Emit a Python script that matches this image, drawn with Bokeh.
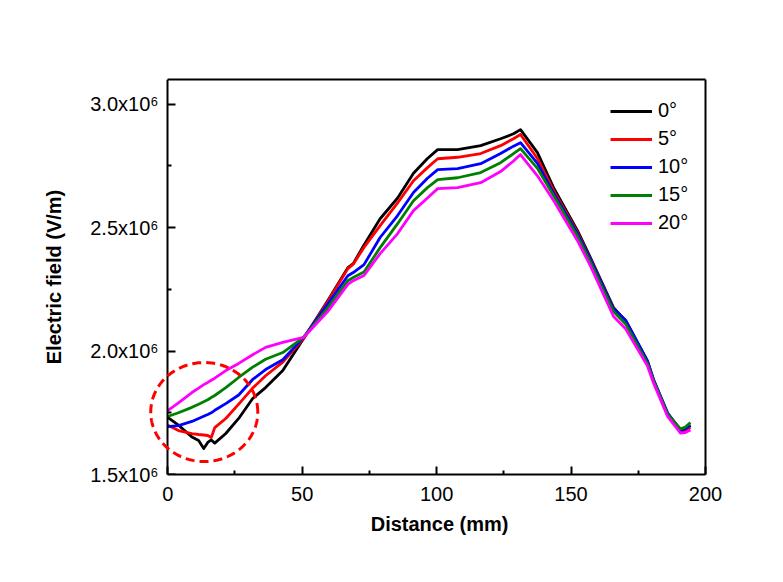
import numpy as np
from bokeh.plotting import figure
from bokeh.models import (Range1d, FixedTicker, Legend, LegendItem, PolyAnnotation,
                          LinearAxis, Title)
from bokeh.embed import file_html
from bokeh.resources import INLINE

# ---------------- data (field in units of 10^6 V/m) ----------------
distance_mm = [0, 4, 9, 11.5, 13.4, 14.9, 16.2, 17.5, 21.6, 26.4, 31.6, 36.4, 42.8,
               50.5, 59.5, 67, 69, 73, 79, 85.5, 91.4, 96.6, 100.4, 107.8, 116.4,
               123.8, 128.6, 131.2, 137.5, 143.5, 152.4, 157.2, 165.8, 170.3, 178.4,
               180.7, 185.9, 190.7, 192.5, 194.4]

field_0deg = [1.731, 1.700, 1.652, 1.638, 1.605, 1.630, 1.640, 1.627, 1.666, 1.727, 1.808,
              1.852, 1.921, 2.050, 2.204, 2.338, 2.354, 2.430, 2.536, 2.620, 2.720, 2.780,
              2.816, 2.816, 2.832, 2.860, 2.880, 2.897, 2.804, 2.662, 2.488, 2.379, 2.176,
              2.123, 1.960, 1.880, 1.747, 1.678, 1.682, 1.698]
field_5deg = [1.700, 1.678, 1.666, 1.662, 1.660, 1.658, 1.650, 1.690, 1.727, 1.785, 1.850,
              1.900, 1.955, 2.050, 2.200, 2.334, 2.352, 2.420, 2.508, 2.600, 2.690, 2.743,
              2.779, 2.785, 2.800, 2.832, 2.860, 2.877, 2.780, 2.650, 2.480, 2.372, 2.170,
              2.120, 1.955, 1.880, 1.745, 1.675, 1.678, 1.690]
field_10deg = [1.694, 1.698, 1.715, 1.727, 1.736, 1.743, 1.750, 1.760, 1.787, 1.822, 1.885,
               1.925, 1.965, 2.055, 2.190, 2.305, 2.318, 2.350, 2.460, 2.549, 2.642, 2.700,
               2.735, 2.739, 2.759, 2.800, 2.830, 2.844, 2.760, 2.640, 2.475, 2.370, 2.170,
               2.125, 1.960, 1.885, 1.750, 1.680, 1.685, 1.700]
field_15deg = [1.735, 1.750, 1.772, 1.785, 1.795, 1.803, 1.812, 1.820, 1.852, 1.893, 1.935,
               1.967, 1.994, 2.055, 2.175, 2.285, 2.298, 2.320, 2.419, 2.516, 2.609, 2.662,
               2.694, 2.702, 2.723, 2.763, 2.800, 2.820, 2.740, 2.630, 2.465, 2.360, 2.160,
               2.110, 1.950, 1.880, 1.745, 1.685, 1.692, 1.710]
field_20deg = [1.759, 1.790, 1.832, 1.850, 1.864, 1.873, 1.882, 1.890, 1.921, 1.950, 1.985,
               2.015, 2.035, 2.055, 2.160, 2.270, 2.285, 2.306, 2.395, 2.476, 2.569, 2.620,
               2.658, 2.662, 2.682, 2.727, 2.770, 2.796, 2.710, 2.610, 2.447, 2.345, 2.140,
               2.090, 1.940, 1.870, 1.735, 1.668, 1.670, 1.680]

series_labels = ["0°", "5°", "10°", "15°", "20°"]
series_values = [field_0deg, field_5deg, field_10deg, field_15deg, field_20deg]
series_colors = ["#000000", "#ff0000", "#0000ff", "#008000", "#ff00ff"]

x_min, x_max = 0, 200
y_min, y_max = 1.5, 3.1
x_ticks = [0, 50, 100, 150, 200]
x_minor_ticks = [25, 75, 125, 175]
y_ticks = [1.5, 2.0, 2.5, 3.0]
y_minor_ticks = [1.75, 2.25, 2.75]
y_tick_labels = ["1.5x10⁶", "2.0x10⁶", "2.5x10⁶", "3.0x10⁶"]
x_title = "Distance (mm)"
y_title = "Electric field (V/m)"

# highlighted region (dashed circle): centre, width, height in data units
circle_cx, circle_cy = 13.6, 1.753
circle_w, circle_h = 39.8, 0.401

FONT = "Liberation Sans"
# the frame reaches a little left of x=0 so that the dashed circle can
# cross the y axis line, which is drawn at x = 0
x_pad = 9

p = figure(width=775, height=574, output_backend="svg", toolbar_location=None,
           x_range=Range1d(x_min - x_pad, x_max), y_range=Range1d(y_min, y_max),
           min_border_left=143, min_border_right=70, min_border_top=79,
           min_border_bottom=100)
p.xgrid.visible = False
p.ygrid.visible = False
p.outline_line_color = None
p.background_fill_color = "white"
p.border_fill_color = "white"

xax = p.below[0]
yax_labels = p.left[0]   # carries tick labels and title, sits at the frame edge

renderers = []
for lab, vals, col in zip(series_labels, series_values, series_colors):
    r = p.line(distance_mm, vals, line_color=col, line_width=2.8, line_join="round")
    renderers.append(r)


def style_line_axis(ax):
    ax.axis_line_width = 2
    ax.axis_line_color = "black"
    ax.major_tick_in = 8
    ax.major_tick_out = 0
    ax.minor_tick_in = 4
    ax.minor_tick_out = 0
    ax.major_tick_line_width = 2
    ax.minor_tick_line_width = 2
    ax.major_tick_line_color = "black"
    ax.minor_tick_line_color = "black"


def style_text(ax):
    ax.major_label_text_font = FONT
    ax.major_label_text_font_size = "20px"
    ax.major_label_text_color = "black"
    ax.axis_label_text_font = FONT
    ax.axis_label_text_font_size = "20px"
    ax.axis_label_text_font_style = "bold"
    ax.axis_label_text_color = "black"


# bottom axis
style_line_axis(xax)
style_text(xax)
xax.bounds = (x_min, x_max)
xax.ticker = FixedTicker(ticks=x_ticks, minor_ticks=x_minor_ticks)
xax.major_label_standoff = 12

# x-axis title, centred under the 0..200 span (not the padded frame)
p.add_layout(Title(text=x_title, align="right", offset=197, standoff=15,
                   text_font=FONT, text_font_size="20px", text_font_style="bold",
                   text_color="black"), "below")

# left axis: labels only (line and ticks come from the axis at x = 0)
style_text(yax_labels)
yax_labels.ticker = FixedTicker(ticks=y_ticks, minor_ticks=y_minor_ticks)
yax_labels.major_label_overrides = {t: s for t, s in zip(y_ticks, y_tick_labels)}
yax_labels.axis_line_color = None
yax_labels.major_tick_line_color = None
yax_labels.minor_tick_line_color = None
yax_labels.major_tick_in = 0
yax_labels.major_tick_out = 0
yax_labels.minor_tick_in = 0
yax_labels.minor_tick_out = 0
yax_labels.major_label_standoff = -15
yax_labels.axis_label = y_title
yax_labels.axis_label_standoff = 22

# y axis line with inward ticks at x = 0
yax_line = LinearAxis(fixed_location=x_min,
                      ticker=FixedTicker(ticks=y_ticks, minor_ticks=y_minor_ticks),
                      major_label_text_font_size="0px", major_label_text_alpha=0)
style_line_axis(yax_line)
p.add_layout(yax_line, "left")

# top and right frame lines (plain axes without ticks or labels)
top_ax = LinearAxis(ticker=FixedTicker(ticks=[]), bounds=(x_min, x_max))
right_ax = LinearAxis(ticker=FixedTicker(ticks=[]))
for ax in (top_ax, right_ax):
    ax.axis_line_width = 2
    ax.axis_line_color = "black"
    ax.major_tick_in = 0
    ax.major_tick_out = 0
    ax.minor_tick_in = 0
    ax.minor_tick_out = 0
    ax.major_label_text_font_size = "0px"
p.add_layout(top_ax, "above")
p.add_layout(right_ax, "right")

# dashed circle
t = np.linspace(0, 2 * np.pi, 240)
cx = circle_cx + circle_w / 2 * np.cos(t)
cy = circle_cy + circle_h / 2 * np.sin(t)
circ = PolyAnnotation(xs=list(cx), ys=list(cy), fill_alpha=0, fill_color=None,
                      line_color="#ff0000", line_alpha=1.0,
                      line_width=3, line_dash="9 5")
p.add_layout(circ)

legend = Legend(items=[LegendItem(label=l, renderers=[r]) for l, r in zip(series_labels, renderers)],
                location=(467, 240), border_line_color=None, background_fill_alpha=0,
                padding=0, margin=0, spacing=5, glyph_width=42, glyph_height=20,
                label_height=20, label_standoff=6, label_text_font=FONT,
                label_text_font_size="20px", label_text_color="black")
p.add_layout(legend)

open("out.html", "w").write(file_html(p, INLINE))
